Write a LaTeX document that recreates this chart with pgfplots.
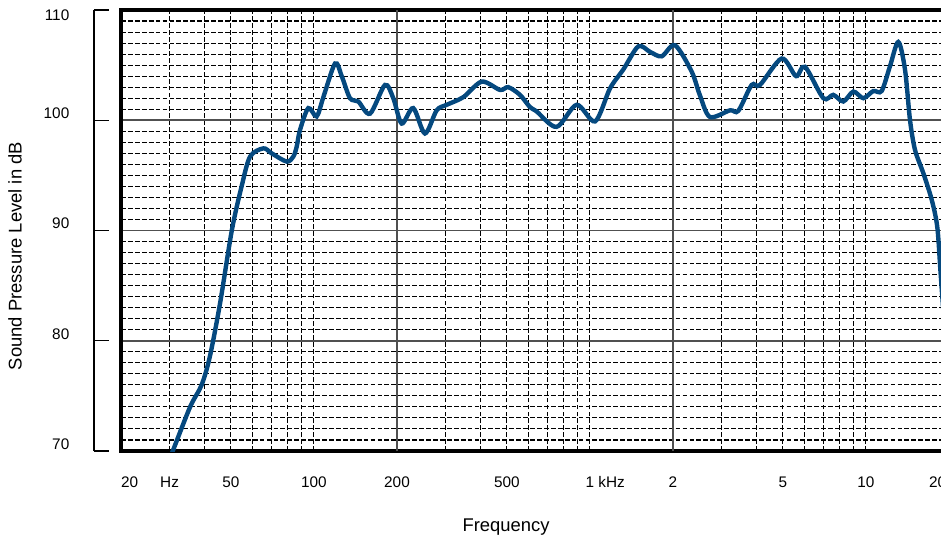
\documentclass[border=0pt]{standalone}
\usepackage{fontspec}
\setmainfont{Liberation Sans}
\usepackage{pgfplots}
\pgfplotsset{compat=1.18}
\definecolor{curveBlue}{HTML}{05497F}
\definecolor{gridSolid}{HTML}{505050}

\begin{document}
\begin{tikzpicture}
\begin{axis}[
  scale only axis,
  width=621pt, height=330.75pt,
  xmode=log, xmin=20, xmax=20000,
  ymin=70, ymax=110,
  axis line style={black, line width=2.6pt},
  major tick length=0pt, minor tick length=0pt,
  xtick={20,30,50,100,200,500,1000,2000,5000,10000,20000},
  xticklabels={\makebox[0pt][l]{20}, Hz, 50, 100, 200, 500, 1\rlap{ kHz}, 2, 5, 10, \makebox[0pt]{\hspace*{-17pt}20}},
  minor xtick={30,40,50,60,70,80,90,100,300,400,500,600,700,800,900,1000,3000,4000,5000,6000,7000,8000,9000,10000},
  extra x ticks={200,2000}, extra x tick labels={,},
  extra x tick style={grid=major},
  ytick={70,80,90,100,110}, yticklabels={},
  minor y tick num=9,
  xminorgrids, yminorgrids, ymajorgrids,
  major grid style={gridSolid, line width=1.2pt},
  minor grid style={black, line width=0.8pt, dash pattern=on 3.6pt off 1.6pt},
  xticklabel style={anchor=base, yshift=-27pt, font=\fontsize{11.5}{13}\selectfont},
  xlabel={Frequency},
  xlabel style={at={(rel axis cs:0.465,-0.1723)}, anchor=center, font=\fontsize{13.8}{16}\selectfont},
  ylabel={Sound Pressure Level in dB},
  ylabel style={at={(rel axis cs:-0.128,0.442)}, anchor=center, font=\fontsize{13.8}{16}\selectfont},
]
\addplot[curveBlue, line width=3.3pt, smooth, tension=0.5] coordinates {
  (28.5,67.9) (30.8,70.0) (35.6,74.0) (39.2,76.0) (42.0,78.6) (45.7,83.4)
  (50.4,90.0) (54.7,94.0) (58.7,96.7) (65.6,97.45) (70.3,97.0) (79.7,96.25)
  (84.2,96.7) (86.6,97.6) (89.0,99.1) (95.4,101.1) (102.3,100.35) (108.2,102.1)
  (119.3,105.15) (126.1,104.0) (135.1,102.0) (144.8,101.7) (159.7,100.6)
  (180.9,103.2) (193.9,102.0) (208,99.7) (229,101.1) (252.5,98.8) (278.5,100.9)
  (302.7,101.4) (348,102.1) (405.6,103.5) (472.4,102.75) (506,103.0) (558,102.3)
  (606,101.2) (641,100.8) (757,99.4) (895,101.4) (1044,99.9) (1183,102.9)
  (1321,104.6) (1497,106.7) (1651,106.2) (1820,105.8) (2033,106.8) (2338,104.4)
  (2500,102.3) (2720,100.3) (3217,100.9) (3448,100.85) (3855,103.2) (4131,103.2)
  (4952,105.6) (5583,104.0) (6015,104.85) (7010,102.0) (7617,102.3) (8280,101.7)
  (9003,102.6) (9783,102.0) (10636,102.65) (11400,102.65) (12222,104.9)
  (13100,107.1) (13852,104.6) (14446,100.0) (15064,97.3) (16141,95.2)
  (17307,92.8) (18137,90.3) (18650,86.1) (19300,81.0) (20000,76.0)
};
\coordinate (bbll) at (rel axis cs:-0.146135,-0.206349);
\coordinate (bbur) at (rel axis cs:0.990338,1.022676);
\end{axis}
\begin{axis}[
  scale only axis,
  width=621pt, height=330.75pt,
  xmin=0, xmax=1, ymin=70, ymax=110,
  axis x line=none, axis y line*=left,
  axis y line shift=20.25pt,
  y axis line style={black, line width=1.1pt},
  ytick={70,80,90,100}, yticklabels={70,80,90,100},
  extra y ticks={110}, extra y tick labels={110},
  extra y tick style={yticklabel style={yshift=-9.4pt}},
  tick align=inside, major tick length=11.25pt,
  tick style={black, line width=1.1pt},
  minor tick num=0,
  yticklabel style={anchor=east, xshift=-15pt, yshift=5.25pt, font=\fontsize{11.5}{13}\selectfont},
]
\end{axis}
\pgfresetboundingbox
\useasboundingbox (bbll) rectangle (bbur);
\end{tikzpicture}
\end{document}
